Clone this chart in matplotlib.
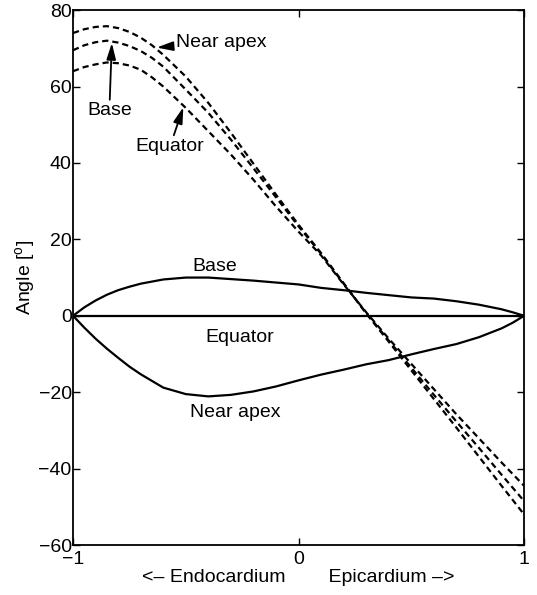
import numpy as np
import matplotlib
matplotlib.use('Agg')
import matplotlib.pyplot as plt

plt.rcParams['font.family'] = ['Liberation Sans', 'DejaVu Sans']
plt.rcParams['mathtext.fontset'] = 'custom'
plt.rcParams['mathtext.rm'] = 'Liberation Sans'

# posicao transmural (endocardio -1 -> epicardio +1)
x_helix = [-1.0, -0.95, -0.9, -0.85, -0.8, -0.75, -0.7, -0.65, -0.6, -0.5, -0.4, -0.3,
           -0.2, -0.1, 0.0, 0.1, 0.2, 0.3, 0.4, 0.5, 0.6, 0.7, 0.8, 0.9, 1.0]

# angulo de helice (tracejado)
helix_apex = [74.0, 75.0, 75.6, 75.8, 75.3, 74.3, 72.8, 70.8, 68.3, 62.6, 55.7, 47.9,
              39.8, 31.7, 23.8, 16.4, 8.5, 0.6, -6.8, -14.3, -21.8, -29.3, -36.9, -44.5, -52.0]
helix_base = [69.5, 70.8, 71.6, 72.0, 71.5, 70.6, 69.3, 67.5, 65.2, 59.2, 53.1, 46.1,
              38.6, 31.0, 23.4, 16.2, 8.4, 0.7, -6.5, -13.6, -20.7, -27.7, -34.6, -41.6, -48.5]
helix_equator = [64.0, 65.1, 65.8, 66.3, 66.1, 65.5, 64.4, 62.4, 60.0, 54.4, 48.3, 42.2,
                 35.6, 28.6, 22.0, 15.8, 8.2, 0.9, -6.0, -12.6, -19.2, -25.8, -32.1, -38.4, -44.5]

x_trans = [-1.0, -0.95, -0.9, -0.85, -0.8, -0.75, -0.7, -0.6, -0.5, -0.4, -0.3, -0.2, -0.1,
           0.0, 0.1, 0.2, 0.3, 0.4, 0.5, 0.6, 0.7, 0.8, 0.9, 0.95, 1.0]

# angulo transverso (continuo)
trans_base = [0.0, 2.2, 4.0, 5.5, 6.7, 7.6, 8.4, 9.5, 10.0, 10.0, 9.6, 9.2, 8.7,
              8.2, 7.3, 6.7, 6.0, 5.4, 4.8, 4.5, 3.8, 2.9, 1.7, 0.9, 0.0]
trans_equator = [0.0] * len(x_trans)
trans_apex = [0.0, -3.1, -6.0, -8.6, -11.0, -13.3, -15.3, -18.8, -20.5, -21.1, -20.7, -19.8, -18.5,
              -16.9, -15.4, -14.1, -12.7, -11.6, -10.1, -8.7, -7.4, -5.6, -3.3, -1.8, 0.0]

fig = plt.figure(figsize=(5.37, 5.95), dpi=100)
ax = fig.add_axes([0.136, 0.084, 0.840, 0.899])

for serie in (helix_apex, helix_base, helix_equator):
    ax.plot(x_helix, serie, color='k', lw=1.6, linestyle=(0, (2.8, 1.8)))

for serie in (trans_base, trans_equator, trans_apex):
    ax.plot(x_trans, serie, color='k', lw=1.6)

fs = 14
seta = dict(arrowstyle='-|>,head_length=0.7,head_width=0.2', color='k', lw=1.3,
            mutation_scale=14, shrinkA=0, shrinkB=0)

ax.annotate('Near apex', xy=(-0.629, 70.2), xytext=(-0.545, 71.6),
            fontsize=fs, va='center', ha='left', arrowprops=seta)
ax.annotate('Base', xy=(-0.828, 71.4), xytext=(-0.839, 53.6),
            fontsize=fs, va='center', ha='center', arrowprops=seta)
ax.annotate('Equator', xy=(-0.511, 54.6), xytext=(-0.57, 44.3),
            fontsize=fs, va='center', ha='center', arrowprops=seta)

ax.text(-0.37, 12.8, 'Base', fontsize=fs, ha='center', va='center')
ax.text(-0.26, -5.8, 'Equator', fontsize=fs, ha='center', va='center')
ax.text(-0.28, -25.3, 'Near apex', fontsize=fs, ha='center', va='center')

ax.set_xlim(-1, 1)
ax.set_ylim(-60, 80)
ax.set_xticks([-1, 0, 1])
ax.set_yticks(np.arange(-60, 81, 20))
ax.tick_params(direction='in', top=True, right=True, labelsize=fs, length=5, width=1, pad=1)
ax.tick_params(axis='x', pad=4)
for s in ax.spines.values():
    s.set_linewidth(1.3)

ax.set_xlabel('<\u2013 Endocardium        Epicardium \u2013>', fontsize=fs, labelpad=1)
ax.set_ylabel('Angle [$^{\\rm o}$]', fontsize=fs, labelpad=0)

fig.savefig('out.png', dpi=100)
